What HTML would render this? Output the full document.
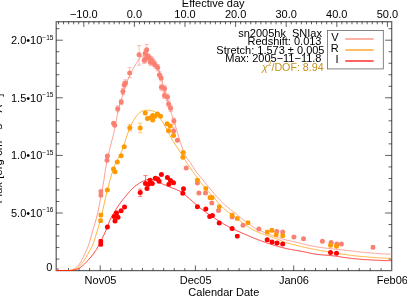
<!DOCTYPE html>
<html><head><meta charset="utf-8"><title>sn2005hk light curve</title>
<style>html,body{margin:0;padding:0;background:#fff;overflow:hidden}body{width:407px;height:297px;font-family:"Liberation Sans",sans-serif}</style></head>
<body>
<svg width="407" height="297" viewBox="0 0 407 297" style="display:block;will-change:transform">
<rect width="407" height="297" fill="#fff"/>
<g font-family="'Liberation Sans', sans-serif" font-size="11" fill="#000">
<rect x="56.20" y="21.70" width="335.50" height="248.90" stroke="#000" stroke-opacity="0.62" stroke-width="1.25" fill="none"/>
<path d="M58.50,21.70 v2.60 M63.56,21.70 v2.60 M68.62,21.70 v2.60 M73.68,21.70 v2.60 M78.74,21.70 v2.60 M83.80,21.70 v5.20 M88.86,21.70 v2.60 M93.92,21.70 v2.60 M98.98,21.70 v2.60 M104.04,21.70 v2.60 M109.10,21.70 v2.60 M114.16,21.70 v2.60 M119.22,21.70 v2.60 M124.28,21.70 v2.60 M129.34,21.70 v2.60 M134.40,21.70 v5.20 M139.46,21.70 v2.60 M144.52,21.70 v2.60 M149.58,21.70 v2.60 M154.64,21.70 v2.60 M159.70,21.70 v2.60 M164.76,21.70 v2.60 M169.82,21.70 v2.60 M174.88,21.70 v2.60 M179.94,21.70 v2.60 M185.00,21.70 v5.20 M190.06,21.70 v2.60 M195.12,21.70 v2.60 M200.18,21.70 v2.60 M205.24,21.70 v2.60 M210.30,21.70 v2.60 M215.36,21.70 v2.60 M220.42,21.70 v2.60 M225.48,21.70 v2.60 M230.54,21.70 v2.60 M235.60,21.70 v5.20 M240.66,21.70 v2.60 M245.72,21.70 v2.60 M250.78,21.70 v2.60 M255.84,21.70 v2.60 M260.90,21.70 v2.60 M265.96,21.70 v2.60 M271.02,21.70 v2.60 M276.08,21.70 v2.60 M281.14,21.70 v2.60 M286.20,21.70 v5.20 M291.26,21.70 v2.60 M296.32,21.70 v2.60 M301.38,21.70 v2.60 M306.44,21.70 v2.60 M311.50,21.70 v2.60 M316.56,21.70 v2.60 M321.62,21.70 v2.60 M326.68,21.70 v2.60 M331.74,21.70 v2.60 M336.80,21.70 v5.20 M341.86,21.70 v2.60 M346.92,21.70 v2.60 M351.98,21.70 v2.60 M357.04,21.70 v2.60 M362.10,21.70 v2.60 M367.16,21.70 v2.60 M372.22,21.70 v2.60 M377.28,21.70 v2.60 M382.34,21.70 v2.60 M387.40,21.70 v5.20 M89.62,270.60 v-2.60 M79.04,270.60 v-2.60 M68.47,270.60 v-2.60 M57.89,270.60 v-2.60 M100.20,270.60 v-5.20 M110.78,270.60 v-2.60 M121.36,270.60 v-2.60 M131.93,270.60 v-2.60 M142.51,270.60 v-2.60 M153.09,270.60 v-2.60 M163.67,270.60 v-2.60 M174.24,270.60 v-2.60 M184.82,270.60 v-2.60 M195.40,270.60 v-5.20 M206.32,270.60 v-2.60 M217.24,270.60 v-2.60 M228.17,270.60 v-2.60 M239.09,270.60 v-2.60 M250.01,270.60 v-2.60 M260.93,270.60 v-2.60 M271.86,270.60 v-2.60 M282.78,270.60 v-2.60 M293.70,270.60 v-5.20 M304.62,270.60 v-2.60 M315.54,270.60 v-2.60 M326.47,270.60 v-2.60 M337.39,270.60 v-2.60 M348.31,270.60 v-2.60 M359.23,270.60 v-2.60 M370.16,270.60 v-2.60 M381.08,270.60 v-2.60 M56.20,259.08 h3.20 M391.70,259.08 h-3.20 M56.20,247.56 h3.20 M391.70,247.56 h-3.20 M56.20,236.04 h3.20 M391.70,236.04 h-3.20 M56.20,224.52 h3.20 M391.70,224.52 h-3.20 M56.20,213.00 h6.60 M391.70,213.00 h-6.60 M56.20,201.48 h3.20 M391.70,201.48 h-3.20 M56.20,189.96 h3.20 M391.70,189.96 h-3.20 M56.20,178.44 h3.20 M391.70,178.44 h-3.20 M56.20,166.92 h3.20 M391.70,166.92 h-3.20 M56.20,155.40 h6.60 M391.70,155.40 h-6.60 M56.20,143.88 h3.20 M391.70,143.88 h-3.20 M56.20,132.36 h3.20 M391.70,132.36 h-3.20 M56.20,120.84 h3.20 M391.70,120.84 h-3.20 M56.20,109.32 h3.20 M391.70,109.32 h-3.20 M56.20,97.80 h6.60 M391.70,97.80 h-6.60 M56.20,86.28 h3.20 M391.70,86.28 h-3.20 M56.20,74.76 h3.20 M391.70,74.76 h-3.20 M56.20,63.24 h3.20 M391.70,63.24 h-3.20 M56.20,51.72 h3.20 M391.70,51.72 h-3.20 M56.20,40.20 h6.60 M391.70,40.20 h-6.60 M56.20,28.68 h3.20 M391.70,28.68 h-3.20" stroke="#000" stroke-opacity="0.62" stroke-width="1.0" fill="none"/>
<path d="M56.2,270.5 L68.9,270.5 L68.90,270.50 L69.71,270.43 L70.52,270.28 L71.33,270.09 L72.14,269.86 L72.95,269.55 L73.75,269.13 L74.56,268.63 L75.37,268.07 L76.18,267.46 L76.99,266.76 L77.80,265.95 L78.61,265.03 L79.42,264.01 L80.23,262.90 L81.04,261.64 L81.84,260.14 L82.65,258.49 L83.46,256.75 L84.27,254.99 L85.08,253.27 L85.89,251.54 L86.70,249.75 L87.51,247.84 L88.32,245.77 L89.13,243.45 L89.93,240.79 L90.74,237.90 L91.55,234.91 L92.36,231.92 L93.17,229.07 L93.98,226.36 L94.79,223.71 L95.60,220.99 L96.41,218.10 L97.22,214.93 L98.02,211.35 L98.83,207.37 L99.64,203.18 L100.45,198.90 L101.26,194.66 L102.07,190.37 L102.88,185.93 L103.69,181.27 L104.50,176.11 L105.31,170.60 L106.12,165.92 L106.92,161.75 L107.73,157.88 L108.54,154.21 L109.35,150.65 L110.16,147.21 L110.97,144.02 L111.78,140.95 L112.59,137.91 L113.40,134.76 L114.21,131.41 L115.01,127.69 L115.82,123.32 L116.63,118.63 L117.44,114.08 L118.25,110.13 L119.06,106.95 L119.87,104.14 L120.68,101.57 L121.49,99.11 L122.30,96.64 L123.10,94.07 L123.91,91.44 L124.72,88.83 L125.53,86.28 L126.34,83.86 L127.15,81.60 L127.96,79.57 L128.77,77.67 L129.58,75.85 L130.39,74.11 L131.19,72.44 L132.00,70.85 L132.81,69.32 L133.62,67.86 L134.43,66.45 L135.24,65.10 L136.05,63.76 L136.86,62.42 L137.67,61.11 L138.48,59.88 L139.28,58.77 L140.09,57.82 L140.90,57.07 L141.71,56.47 L142.52,55.89 L143.33,55.35 L144.14,54.87 L144.95,54.47 L145.76,54.18 L146.57,54.02 L147.38,54.02 L148.18,54.19 L148.99,54.50 L149.80,54.94 L150.61,55.46 L151.42,56.05 L152.23,56.70 L153.04,57.62 L153.85,58.86 L154.66,60.32 L155.47,61.91 L156.27,63.57 L157.08,65.43 L157.89,67.50 L158.70,69.77 L159.51,72.19 L160.32,74.76 L161.13,77.44 L161.94,80.54 L162.75,83.79 L163.56,86.86 L164.36,89.89 L165.17,92.90 L165.98,95.94 L166.79,98.92 L167.60,101.70 L168.41,104.35 L169.22,106.91 L170.03,109.42 L170.84,111.91 L171.65,114.35 L172.45,116.76 L173.26,119.25 L174.07,121.78 L174.88,124.31 L175.69,126.79 L176.50,129.30 L177.31,132.17 L178.12,135.06 L178.93,137.71 L179.74,140.27 L180.55,142.74 L181.35,145.12 L182.16,147.42 L182.97,149.71 L183.78,151.92 L184.59,153.91 L185.40,155.58 L186.21,157.02 L187.02,158.32 L187.83,159.51 L188.64,160.63 L189.44,161.71 L190.25,162.79 L191.06,163.91 L191.87,165.11 L192.68,166.39 L193.49,167.69 L194.30,168.96 L195.11,170.15 L195.92,171.27 L196.73,172.36 L197.53,173.41 L198.34,174.44 L199.15,175.45 L199.96,176.44 L200.77,177.42 L201.58,178.39 L202.39,179.35 L203.20,180.31 L204.01,181.28 L204.82,182.25 L205.62,183.24 L206.43,184.23 L207.24,185.22 L208.05,186.21 L208.86,187.20 L209.67,188.19 L210.48,189.18 L211.29,190.16 L212.10,191.14 L212.91,192.11 L213.72,193.08 L214.52,194.03 L215.33,194.97 L216.14,195.91 L216.95,196.83 L217.76,197.73 L218.57,198.62 L219.38,199.49 L220.19,200.35 L221.00,201.20 L221.81,202.03 L222.61,202.84 L223.42,203.63 L224.23,204.40 L225.04,205.14 L225.85,205.85 L226.66,206.53 L227.47,207.20 L228.28,207.84 L229.09,208.48 L229.90,209.10 L230.70,209.72 L231.51,210.34 L232.32,210.95 L233.13,211.57 L233.94,212.19 L234.75,212.82 L235.56,213.47 L236.37,214.12 L237.18,214.78 L237.99,215.44 L238.79,216.10 L239.60,216.76 L240.41,217.42 L241.22,218.08 L242.03,218.73 L242.84,219.38 L243.65,220.01 L244.46,220.64 L245.27,221.25 L246.08,221.86 L246.88,222.48 L247.69,223.10 L248.50,223.71 L249.31,224.33 L250.12,224.93 L250.93,225.52 L251.74,226.09 L252.55,226.64 L253.36,227.16 L254.17,227.66 L254.98,228.12 L255.78,228.56 L256.59,228.97 L257.40,229.38 L258.21,229.77 L259.02,230.16 L259.83,230.53 L260.64,230.89 L261.45,231.25 L262.26,231.60 L263.07,231.93 L263.87,232.26 L264.68,232.59 L265.49,232.91 L266.30,233.22 L267.11,233.53 L267.92,233.83 L268.73,234.13 L269.54,234.43 L270.35,234.72 L271.16,235.02 L271.96,235.31 L272.77,235.60 L273.58,235.89 L274.39,236.18 L275.20,236.47 L276.01,236.77 L276.82,237.06 L277.63,237.35 L278.44,237.64 L279.25,237.92 L280.05,238.20 L280.86,238.47 L281.67,238.73 L282.48,238.99 L283.29,239.24 L284.10,239.47 L284.91,239.70 L285.72,239.91 L286.53,240.10 L287.34,240.29 L288.15,240.47 L288.95,240.64 L289.76,240.80 L290.57,240.96 L291.38,241.13 L292.19,241.29 L293.00,241.46 L293.81,241.63 L294.62,241.81 L295.43,242.00 L296.24,242.20 L297.04,242.41 L297.85,242.62 L298.66,242.84 L299.47,243.06 L300.28,243.28 L301.09,243.50 L301.90,243.72 L302.71,243.93 L303.52,244.14 L304.33,244.34 L305.13,244.53 L305.94,244.72 L306.75,244.91 L307.56,245.09 L308.37,245.28 L309.18,245.46 L309.99,245.63 L310.80,245.81 L311.61,245.97 L312.42,246.13 L313.22,246.29 L314.03,246.44 L314.84,246.57 L315.65,246.71 L316.46,246.83 L317.27,246.96 L318.08,247.08 L318.89,247.20 L319.70,247.31 L320.51,247.43 L321.32,247.54 L322.12,247.64 L322.93,247.75 L323.74,247.85 L324.55,247.95 L325.36,248.05 L326.17,248.15 L326.98,248.25 L327.79,248.35 L328.60,248.44 L329.41,248.53 L330.21,248.63 L331.02,248.72 L331.83,248.81 L332.64,248.90 L333.45,248.99 L334.26,249.08 L335.07,249.17 L335.88,249.26 L336.69,249.35 L337.50,249.44 L338.30,249.52 L339.11,249.60 L339.92,249.68 L340.73,249.76 L341.54,249.84 L342.35,249.92 L343.16,250.01 L343.97,250.09 L344.78,250.18 L345.59,250.26 L346.39,250.35 L347.20,250.45 L348.01,250.54 L348.82,250.64 L349.63,250.74 L350.44,250.84 L351.25,250.94 L352.06,251.04 L352.87,251.14 L353.68,251.24 L354.48,251.34 L355.29,251.44 L356.10,251.54 L356.91,251.64 L357.72,251.74 L358.53,251.83 L359.34,251.93 L360.15,252.02 L360.96,252.10 L361.77,252.19 L362.58,252.27 L363.38,252.35 L364.19,252.43 L365.00,252.50 L365.81,252.57 L366.62,252.64 L367.43,252.71 L368.24,252.77 L369.05,252.84 L369.86,252.91 L370.67,252.97 L371.47,253.04 L372.28,253.10 L373.09,253.17 L373.90,253.23 L374.71,253.29 L375.52,253.35 L376.33,253.41 L377.14,253.47 L377.95,253.52 L378.76,253.58 L379.56,253.64 L380.37,253.69 L381.18,253.74 L381.99,253.79 L382.80,253.84 L383.61,253.89 L384.42,253.94 L385.23,253.99 L386.04,254.03 L386.85,254.07 L387.65,254.12 L388.46,254.16 L389.27,254.19 L390.08,254.23 L390.89,254.27 L391.70,254.30" fill="none" stroke="#FA8072" stroke-width="0.75" stroke-linejoin="round"/>
<path d="M56.2,270.5 L68.9,270.5 L68.90,270.50 L69.71,270.44 L70.52,270.34 L71.33,270.22 L72.14,270.07 L72.95,269.90 L73.75,269.67 L74.56,269.40 L75.37,269.08 L76.18,268.71 L76.99,268.24 L77.80,267.66 L78.61,266.97 L79.42,266.19 L80.23,265.34 L81.04,264.44 L81.84,263.50 L82.65,262.54 L83.46,261.48 L84.27,260.29 L85.08,258.99 L85.89,257.60 L86.70,256.17 L87.51,254.70 L88.32,253.23 L89.13,251.78 L89.93,250.37 L90.74,248.96 L91.55,247.45 L92.36,245.77 L93.17,243.80 L93.98,241.41 L94.79,238.80 L95.60,236.19 L96.41,233.63 L97.22,231.05 L98.02,228.41 L98.83,225.67 L99.64,222.81 L100.45,219.74 L101.26,216.48 L102.07,213.12 L102.88,209.61 L103.69,205.99 L104.50,202.35 L105.31,198.73 L106.12,195.22 L106.92,191.87 L107.73,188.72 L108.54,185.63 L109.35,182.58 L110.16,179.59 L110.97,176.70 L111.78,173.94 L112.59,171.33 L113.40,168.90 L114.21,166.69 L115.01,164.70 L115.82,162.91 L116.63,161.27 L117.44,159.74 L118.25,158.25 L119.06,156.77 L119.87,155.26 L120.68,153.66 L121.49,151.92 L122.30,150.01 L123.10,147.82 L123.91,145.35 L124.72,142.73 L125.53,140.06 L126.34,137.45 L127.15,135.03 L127.96,132.87 L128.77,130.79 L129.58,128.78 L130.39,126.86 L131.19,125.05 L132.00,123.37 L132.81,121.85 L133.62,120.46 L134.43,119.11 L135.24,117.82 L136.05,116.62 L136.86,115.52 L137.67,114.54 L138.48,113.69 L139.28,112.97 L140.09,112.33 L140.90,111.78 L141.71,111.35 L142.52,111.06 L143.33,110.80 L144.14,110.57 L144.95,110.39 L145.76,110.26 L146.57,110.20 L147.38,110.21 L148.18,110.24 L148.99,110.30 L149.80,110.37 L150.61,110.46 L151.42,110.56 L152.23,110.73 L153.04,110.97 L153.85,111.27 L154.66,111.63 L155.47,112.08 L156.27,112.77 L157.08,113.69 L157.89,114.77 L158.70,115.96 L159.51,117.21 L160.32,118.47 L161.13,119.69 L161.94,120.93 L162.75,122.22 L163.56,123.57 L164.36,124.97 L165.17,126.41 L165.98,127.88 L166.79,129.38 L167.60,130.90 L168.41,132.43 L169.22,133.97 L170.03,135.55 L170.84,137.22 L171.65,138.80 L172.45,140.22 L173.26,141.56 L174.07,142.84 L174.88,144.09 L175.69,145.29 L176.50,146.48 L177.31,147.66 L178.12,148.85 L178.93,150.05 L179.74,151.28 L180.55,152.55 L181.35,153.84 L182.16,155.15 L182.97,156.47 L183.78,157.80 L184.59,159.12 L185.40,160.44 L186.21,161.74 L187.02,163.02 L187.83,164.28 L188.64,165.50 L189.44,166.71 L190.25,167.89 L191.06,169.05 L191.87,170.21 L192.68,171.35 L193.49,172.48 L194.30,173.61 L195.11,174.73 L195.92,175.86 L196.73,176.99 L197.53,178.12 L198.34,179.25 L199.15,180.37 L199.96,181.49 L200.77,182.59 L201.58,183.67 L202.39,184.73 L203.20,185.76 L204.01,186.76 L204.82,187.74 L205.62,188.67 L206.43,189.59 L207.24,190.47 L208.05,191.35 L208.86,192.20 L209.67,193.05 L210.48,193.90 L211.29,194.75 L212.10,195.61 L212.91,196.47 L213.72,197.35 L214.52,198.26 L215.33,199.19 L216.14,200.17 L216.95,201.18 L217.76,202.21 L218.57,203.22 L219.38,204.21 L220.19,205.14 L221.00,206.00 L221.81,206.79 L222.61,207.54 L223.42,208.25 L224.23,208.94 L225.04,209.62 L225.85,210.29 L226.66,210.95 L227.47,211.60 L228.28,212.23 L229.09,212.86 L229.90,213.49 L230.70,214.10 L231.51,214.71 L232.32,215.31 L233.13,215.90 L233.94,216.49 L234.75,217.08 L235.56,217.66 L236.37,218.25 L237.18,218.83 L237.99,219.40 L238.79,219.99 L239.60,220.58 L240.41,221.18 L241.22,221.78 L242.03,222.39 L242.84,222.99 L243.65,223.59 L244.46,224.19 L245.27,224.78 L246.08,225.37 L246.88,225.95 L247.69,226.51 L248.50,227.07 L249.31,227.61 L250.12,228.14 L250.93,228.65 L251.74,229.14 L252.55,229.61 L253.36,230.06 L254.17,230.49 L254.98,230.89 L255.78,231.27 L256.59,231.63 L257.40,231.98 L258.21,232.32 L259.02,232.64 L259.83,232.96 L260.64,233.27 L261.45,233.56 L262.26,233.85 L263.07,234.13 L263.87,234.41 L264.68,234.68 L265.49,234.95 L266.30,235.22 L267.11,235.48 L267.92,235.75 L268.73,236.01 L269.54,236.28 L270.35,236.55 L271.16,236.82 L271.96,237.10 L272.77,237.38 L273.58,237.67 L274.39,237.97 L275.20,238.28 L276.01,238.60 L276.82,238.93 L277.63,239.26 L278.44,239.60 L279.25,239.95 L280.05,240.29 L280.86,240.63 L281.67,240.96 L282.48,241.28 L283.29,241.60 L284.10,241.89 L284.91,242.17 L285.72,242.43 L286.53,242.69 L287.34,242.93 L288.15,243.18 L288.95,243.41 L289.76,243.64 L290.57,243.87 L291.38,244.09 L292.19,244.31 L293.00,244.52 L293.81,244.73 L294.62,244.94 L295.43,245.14 L296.24,245.34 L297.04,245.54 L297.85,245.74 L298.66,245.93 L299.47,246.12 L300.28,246.31 L301.09,246.50 L301.90,246.69 L302.71,246.87 L303.52,247.06 L304.33,247.25 L305.13,247.43 L305.94,247.61 L306.75,247.80 L307.56,247.97 L308.37,248.15 L309.18,248.32 L309.99,248.49 L310.80,248.66 L311.61,248.83 L312.42,248.99 L313.22,249.15 L314.03,249.31 L314.84,249.47 L315.65,249.62 L316.46,249.78 L317.27,249.93 L318.08,250.08 L318.89,250.23 L319.70,250.37 L320.51,250.52 L321.32,250.66 L322.12,250.80 L322.93,250.94 L323.74,251.08 L324.55,251.22 L325.36,251.36 L326.17,251.50 L326.98,251.63 L327.79,251.77 L328.60,251.90 L329.41,252.04 L330.21,252.17 L331.02,252.30 L331.83,252.44 L332.64,252.57 L333.45,252.70 L334.26,252.83 L335.07,252.96 L335.88,253.09 L336.69,253.23 L337.50,253.36 L338.30,253.49 L339.11,253.62 L339.92,253.75 L340.73,253.88 L341.54,254.00 L342.35,254.12 L343.16,254.24 L343.97,254.36 L344.78,254.47 L345.59,254.58 L346.39,254.69 L347.20,254.79 L348.01,254.90 L348.82,255.01 L349.63,255.11 L350.44,255.22 L351.25,255.32 L352.06,255.42 L352.87,255.53 L353.68,255.63 L354.48,255.72 L355.29,255.82 L356.10,255.91 L356.91,256.01 L357.72,256.10 L358.53,256.19 L359.34,256.27 L360.15,256.36 L360.96,256.44 L361.77,256.52 L362.58,256.59 L363.38,256.66 L364.19,256.73 L365.00,256.80 L365.81,256.86 L366.62,256.93 L367.43,256.99 L368.24,257.06 L369.05,257.12 L369.86,257.18 L370.67,257.24 L371.47,257.30 L372.28,257.36 L373.09,257.42 L373.90,257.48 L374.71,257.53 L375.52,257.59 L376.33,257.64 L377.14,257.69 L377.95,257.75 L378.76,257.80 L379.56,257.85 L380.37,257.90 L381.18,257.94 L381.99,257.99 L382.80,258.03 L383.61,258.07 L384.42,258.11 L385.23,258.15 L386.04,258.19 L386.85,258.23 L387.65,258.26 L388.46,258.29 L389.27,258.32 L390.08,258.35 L390.89,258.38 L391.70,258.40" fill="none" stroke="#FF9900" stroke-width="0.75" stroke-linejoin="round"/>
<path d="M56.2,270.5 L68.9,270.5 L68.90,270.50 L69.71,270.47 L70.52,270.42 L71.33,270.36 L72.14,270.29 L72.95,270.19 L73.75,270.07 L74.56,269.93 L75.37,269.75 L76.18,269.55 L76.99,269.28 L77.80,268.92 L78.61,268.50 L79.42,268.04 L80.23,267.55 L81.04,267.01 L81.84,266.40 L82.65,265.73 L83.46,265.00 L84.27,264.23 L85.08,263.41 L85.89,262.57 L86.70,261.70 L87.51,260.81 L88.32,259.91 L89.13,259.01 L89.93,258.09 L90.74,257.14 L91.55,256.16 L92.36,255.15 L93.17,254.10 L93.98,253.00 L94.79,251.87 L95.60,250.69 L96.41,249.46 L97.22,248.17 L98.02,246.77 L98.83,245.22 L99.64,243.57 L100.45,241.88 L101.26,240.19 L102.07,238.57 L102.88,236.99 L103.69,235.38 L104.50,233.69 L105.31,231.88 L106.12,229.99 L106.92,228.03 L107.73,225.98 L108.54,223.76 L109.35,221.62 L110.16,219.80 L110.97,218.17 L111.78,216.65 L112.59,215.20 L113.40,213.78 L114.21,212.38 L115.01,211.01 L115.82,209.67 L116.63,208.36 L117.44,207.09 L118.25,205.86 L119.06,204.66 L119.87,203.50 L120.68,202.39 L121.49,201.34 L122.30,200.34 L123.10,199.37 L123.91,198.41 L124.72,197.44 L125.53,196.44 L126.34,195.42 L127.15,194.40 L127.96,193.39 L128.77,192.41 L129.58,191.47 L130.39,190.61 L131.19,189.78 L132.00,188.98 L132.81,188.21 L133.62,187.47 L134.43,186.77 L135.24,186.10 L136.05,185.46 L136.86,184.86 L137.67,184.29 L138.48,183.75 L139.28,183.24 L140.09,182.76 L140.90,182.31 L141.71,181.86 L142.52,181.45 L143.33,181.06 L144.14,180.71 L144.95,180.41 L145.76,180.10 L146.57,179.81 L147.38,179.55 L148.18,179.37 L148.99,179.30 L149.80,179.32 L150.61,179.38 L151.42,179.47 L152.23,179.58 L153.04,179.71 L153.85,179.88 L154.66,180.13 L155.47,180.46 L156.27,180.83 L157.08,181.24 L157.89,181.68 L158.70,182.12 L159.51,182.57 L160.32,182.99 L161.13,183.38 L161.94,183.73 L162.75,184.08 L163.56,184.42 L164.36,184.76 L165.17,185.09 L165.98,185.43 L166.79,185.76 L167.60,186.09 L168.41,186.43 L169.22,186.76 L170.03,187.10 L170.84,187.44 L171.65,187.77 L172.45,188.09 L173.26,188.40 L174.07,188.70 L174.88,189.01 L175.69,189.32 L176.50,189.64 L177.31,189.98 L178.12,190.33 L178.93,190.71 L179.74,191.11 L180.55,191.54 L181.35,192.02 L182.16,192.59 L182.97,193.23 L183.78,193.91 L184.59,194.57 L185.40,195.23 L186.21,195.90 L187.02,196.58 L187.83,197.27 L188.64,197.96 L189.44,198.67 L190.25,199.38 L191.06,200.09 L191.87,200.81 L192.68,201.53 L193.49,202.25 L194.30,202.97 L195.11,203.68 L195.92,204.39 L196.73,205.10 L197.53,205.80 L198.34,206.49 L199.15,207.17 L199.96,207.84 L200.77,208.49 L201.58,209.14 L202.39,209.76 L203.20,210.38 L204.01,210.98 L204.82,211.57 L205.62,212.16 L206.43,212.74 L207.24,213.31 L208.05,213.88 L208.86,214.43 L209.67,214.99 L210.48,215.53 L211.29,216.07 L212.10,216.61 L212.91,217.14 L213.72,217.67 L214.52,218.19 L215.33,218.71 L216.14,219.23 L216.95,219.75 L217.76,220.27 L218.57,220.78 L219.38,221.30 L220.19,221.80 L221.00,222.31 L221.81,222.81 L222.61,223.30 L223.42,223.79 L224.23,224.28 L225.04,224.75 L225.85,225.22 L226.66,225.68 L227.47,226.14 L228.28,226.58 L229.09,227.02 L229.90,227.44 L230.70,227.86 L231.51,228.26 L232.32,228.66 L233.13,229.05 L233.94,229.43 L234.75,229.80 L235.56,230.17 L236.37,230.54 L237.18,230.90 L237.99,231.25 L238.79,231.60 L239.60,231.95 L240.41,232.30 L241.22,232.65 L242.03,232.99 L242.84,233.34 L243.65,233.69 L244.46,234.04 L245.27,234.39 L246.08,234.74 L246.88,235.09 L247.69,235.45 L248.50,235.81 L249.31,236.16 L250.12,236.52 L250.93,236.87 L251.74,237.22 L252.55,237.56 L253.36,237.90 L254.17,238.24 L254.98,238.57 L255.78,238.89 L256.59,239.20 L257.40,239.50 L258.21,239.80 L259.02,240.09 L259.83,240.39 L260.64,240.68 L261.45,240.97 L262.26,241.26 L263.07,241.55 L263.87,241.84 L264.68,242.12 L265.49,242.40 L266.30,242.69 L267.11,242.96 L267.92,243.24 L268.73,243.51 L269.54,243.78 L270.35,244.05 L271.16,244.31 L271.96,244.57 L272.77,244.83 L273.58,245.08 L274.39,245.33 L275.20,245.58 L276.01,245.82 L276.82,246.06 L277.63,246.30 L278.44,246.53 L279.25,246.75 L280.05,246.98 L280.86,247.19 L281.67,247.41 L282.48,247.61 L283.29,247.82 L284.10,248.02 L284.91,248.21 L285.72,248.40 L286.53,248.58 L287.34,248.75 L288.15,248.92 L288.95,249.09 L289.76,249.25 L290.57,249.40 L291.38,249.56 L292.19,249.70 L293.00,249.85 L293.81,250.00 L294.62,250.14 L295.43,250.28 L296.24,250.42 L297.04,250.56 L297.85,250.70 L298.66,250.84 L299.47,250.98 L300.28,251.12 L301.09,251.26 L301.90,251.41 L302.71,251.56 L303.52,251.71 L304.33,251.87 L305.13,252.03 L305.94,252.20 L306.75,252.37 L307.56,252.56 L308.37,252.75 L309.18,252.93 L309.99,253.12 L310.80,253.31 L311.61,253.48 L312.42,253.65 L313.22,253.81 L314.03,253.95 L314.84,254.08 L315.65,254.19 L316.46,254.29 L317.27,254.39 L318.08,254.48 L318.89,254.57 L319.70,254.66 L320.51,254.74 L321.32,254.81 L322.12,254.89 L322.93,254.96 L323.74,255.02 L324.55,255.09 L325.36,255.16 L326.17,255.22 L326.98,255.29 L327.79,255.36 L328.60,255.43 L329.41,255.50 L330.21,255.57 L331.02,255.64 L331.83,255.72 L332.64,255.80 L333.45,255.89 L334.26,255.98 L335.07,256.07 L335.88,256.17 L336.69,256.29 L337.50,256.41 L338.30,256.54 L339.11,256.67 L339.92,256.81 L340.73,256.95 L341.54,257.08 L342.35,257.22 L343.16,257.34 L343.97,257.46 L344.78,257.57 L345.59,257.67 L346.39,257.77 L347.20,257.87 L348.01,257.97 L348.82,258.07 L349.63,258.16 L350.44,258.26 L351.25,258.35 L352.06,258.44 L352.87,258.53 L353.68,258.62 L354.48,258.71 L355.29,258.79 L356.10,258.88 L356.91,258.96 L357.72,259.03 L358.53,259.11 L359.34,259.18 L360.15,259.25 L360.96,259.32 L361.77,259.38 L362.58,259.44 L363.38,259.50 L364.19,259.55 L365.00,259.60 L365.81,259.65 L366.62,259.70 L367.43,259.74 L368.24,259.79 L369.05,259.84 L369.86,259.88 L370.67,259.93 L371.47,259.97 L372.28,260.02 L373.09,260.06 L373.90,260.11 L374.71,260.15 L375.52,260.19 L376.33,260.23 L377.14,260.27 L377.95,260.31 L378.76,260.34 L379.56,260.38 L380.37,260.41 L381.18,260.44 L381.99,260.47 L382.80,260.50 L383.61,260.53 L384.42,260.56 L385.23,260.58 L386.04,260.60 L386.85,260.62 L387.65,260.64 L388.46,260.66 L389.27,260.67 L390.08,260.68 L390.89,260.69 L391.70,260.70" fill="none" stroke="#FF0000" stroke-width="0.75" stroke-linejoin="round"/>
<circle cx="107.4" cy="156.1" r="2.5" fill="#FA8072"/>
<circle cx="107.0" cy="160.3" r="2.5" fill="#FA8072"/>
<circle cx="113.6" cy="123.2" r="2.5" fill="#FA8072"/>
<circle cx="114.7" cy="125.2" r="2.5" fill="#FA8072"/>
<path d="M117.7,105.8 V111.8 M115.6,105.8 H119.8 M115.6,111.8 H119.8" stroke="#FA8072" stroke-width="0.6" stroke-opacity="0.85" fill="none"/>
<circle cx="117.7" cy="108.8" r="2.5" fill="#FA8072"/>
<path d="M121.2,99.6 V104.6 M119.1,99.6 H123.3 M119.1,104.6 H123.3" stroke="#FA8072" stroke-width="0.6" stroke-opacity="0.85" fill="none"/>
<circle cx="121.2" cy="102.1" r="2.5" fill="#FA8072"/>
<path d="M122.9,88.5 V94.5 M120.8,88.5 H125.0 M120.8,94.5 H125.0" stroke="#FA8072" stroke-width="0.6" stroke-opacity="0.85" fill="none"/>
<circle cx="122.9" cy="91.5" r="2.5" fill="#FA8072"/>
<path d="M124.2,81.6 V87.8 M122.1,81.6 H126.3 M122.1,87.8 H126.3" stroke="#FA8072" stroke-width="0.6" stroke-opacity="0.85" fill="none"/>
<circle cx="124.2" cy="84.7" r="2.5" fill="#FA8072"/>
<path d="M125.5,79.8 V86.0 M123.4,79.8 H127.6 M123.4,86.0 H127.6" stroke="#FA8072" stroke-width="0.6" stroke-opacity="0.85" fill="none"/>
<circle cx="125.5" cy="82.9" r="2.5" fill="#FA8072"/>
<path d="M129.7,67.7 V77.5 M127.6,67.7 H131.8 M127.6,77.5 H131.8" stroke="#FA8072" stroke-width="0.6" stroke-opacity="0.85" fill="none"/>
<circle cx="129.7" cy="72.9" r="2.5" fill="#FA8072"/>
<path d="M139.1,45.5 V65.2 M137.0,45.5 H141.2 M137.0,65.2 H141.2" stroke="#FA8072" stroke-width="0.6" stroke-opacity="0.85" fill="none"/>
<circle cx="139.1" cy="54.7" r="2.5" fill="#FA8072"/>
<path d="M146.7,44.4 V55.0 M144.6,44.4 H148.8 M144.6,55.0 H148.8" stroke="#FA8072" stroke-width="0.6" stroke-opacity="0.85" fill="none"/>
<circle cx="146.7" cy="49.7" r="2.5" fill="#FA8072"/>
<path d="M145.2,50.1 V56.3 M143.1,50.1 H147.3 M143.1,56.3 H147.3" stroke="#FA8072" stroke-width="0.6" stroke-opacity="0.85" fill="none"/>
<circle cx="145.2" cy="53.2" r="2.5" fill="#FA8072"/>
<path d="M145.2,56.1 V62.3 M143.1,56.1 H147.3 M143.1,62.3 H147.3" stroke="#FA8072" stroke-width="0.6" stroke-opacity="0.85" fill="none"/>
<circle cx="145.2" cy="59.2" r="2.5" fill="#FA8072"/>
<path d="M147.3,53.2 V59.4 M145.2,53.2 H149.4 M145.2,59.4 H149.4" stroke="#FA8072" stroke-width="0.6" stroke-opacity="0.85" fill="none"/>
<circle cx="147.3" cy="56.3" r="2.5" fill="#FA8072"/>
<path d="M150.3,59.2 V65.4 M148.2,59.2 H152.4 M148.2,65.4 H152.4" stroke="#FA8072" stroke-width="0.6" stroke-opacity="0.85" fill="none"/>
<circle cx="150.3" cy="62.3" r="2.5" fill="#FA8072"/>
<path d="M144.2,57.2 V63.4 M142.1,57.2 H146.3 M142.1,63.4 H146.3" stroke="#FA8072" stroke-width="0.6" stroke-opacity="0.85" fill="none"/>
<circle cx="144.2" cy="60.3" r="2.5" fill="#FA8072"/>
<path d="M148.9,54.6 V60.8 M146.8,54.6 H151.0 M146.8,60.8 H151.0" stroke="#FA8072" stroke-width="0.6" stroke-opacity="0.85" fill="none"/>
<circle cx="148.9" cy="57.7" r="2.5" fill="#FA8072"/>
<path d="M151.2,56.9 V63.1 M149.1,56.9 H153.3 M149.1,63.1 H153.3" stroke="#FA8072" stroke-width="0.6" stroke-opacity="0.85" fill="none"/>
<circle cx="151.2" cy="60.0" r="2.5" fill="#FA8072"/>
<path d="M153.5,59.9 V66.1 M151.4,59.9 H155.6 M151.4,66.1 H155.6" stroke="#FA8072" stroke-width="0.6" stroke-opacity="0.85" fill="none"/>
<circle cx="153.5" cy="63.0" r="2.5" fill="#FA8072"/>
<path d="M155.2,61.9 V68.1 M153.1,61.9 H157.3 M153.1,68.1 H157.3" stroke="#FA8072" stroke-width="0.6" stroke-opacity="0.85" fill="none"/>
<circle cx="155.2" cy="65.0" r="2.5" fill="#FA8072"/>
<path d="M157.7,64.5 V70.7 M155.6,64.5 H159.8 M155.6,70.7 H159.8" stroke="#FA8072" stroke-width="0.6" stroke-opacity="0.85" fill="none"/>
<circle cx="157.7" cy="67.6" r="2.5" fill="#FA8072"/>
<path d="M159.4,71.6 V77.8 M157.3,71.6 H161.5 M157.3,77.8 H161.5" stroke="#FA8072" stroke-width="0.6" stroke-opacity="0.85" fill="none"/>
<circle cx="159.4" cy="74.7" r="2.5" fill="#FA8072"/>
<path d="M161.1,74.8 V81.0 M159.0,74.8 H163.2 M159.0,81.0 H163.2" stroke="#FA8072" stroke-width="0.6" stroke-opacity="0.85" fill="none"/>
<circle cx="161.1" cy="77.9" r="2.5" fill="#FA8072"/>
<path d="M161.4,84.2 V90.4 M159.3,84.2 H163.5 M159.3,90.4 H163.5" stroke="#FA8072" stroke-width="0.6" stroke-opacity="0.85" fill="none"/>
<circle cx="161.4" cy="87.3" r="2.5" fill="#FA8072"/>
<path d="M164.6,85.3 V91.5 M162.5,85.3 H166.7 M162.5,91.5 H166.7" stroke="#FA8072" stroke-width="0.6" stroke-opacity="0.85" fill="none"/>
<circle cx="164.6" cy="88.4" r="2.5" fill="#FA8072"/>
<path d="M164.4,92.4 V98.6 M162.3,92.4 H166.5 M162.3,98.6 H166.5" stroke="#FA8072" stroke-width="0.6" stroke-opacity="0.85" fill="none"/>
<circle cx="164.4" cy="95.5" r="2.5" fill="#FA8072"/>
<path d="M167.5,93.9 V100.1 M165.4,93.9 H169.6 M165.4,100.1 H169.6" stroke="#FA8072" stroke-width="0.6" stroke-opacity="0.85" fill="none"/>
<circle cx="167.5" cy="97.0" r="2.5" fill="#FA8072"/>
<path d="M168.6,100.9 V107.1 M166.5,100.9 H170.7 M166.5,107.1 H170.7" stroke="#FA8072" stroke-width="0.6" stroke-opacity="0.85" fill="none"/>
<circle cx="168.6" cy="104.0" r="2.5" fill="#FA8072"/>
<path d="M170.6,105.2 V111.4 M168.5,105.2 H172.7 M168.5,111.4 H172.7" stroke="#FA8072" stroke-width="0.6" stroke-opacity="0.85" fill="none"/>
<circle cx="170.6" cy="108.3" r="2.5" fill="#FA8072"/>
<path d="M173.9,118.0 V124.2 M171.8,118.0 H176.0 M171.8,124.2 H176.0" stroke="#FA8072" stroke-width="0.6" stroke-opacity="0.85" fill="none"/>
<circle cx="173.9" cy="121.1" r="2.5" fill="#FA8072"/>
<path d="M173.6,127.8 V134.0 M171.5,127.8 H175.7 M171.5,134.0 H175.7" stroke="#FA8072" stroke-width="0.6" stroke-opacity="0.85" fill="none"/>
<circle cx="173.6" cy="130.9" r="2.5" fill="#FA8072"/>
<circle cx="177.4" cy="140.3" r="2.5" fill="#FA8072"/>
<circle cx="186.2" cy="168.1" r="2.5" fill="#FA8072"/>
<circle cx="197.4" cy="182.9" r="2.5" fill="#FA8072"/>
<circle cx="198.9" cy="193.0" r="2.5" fill="#FA8072"/>
<circle cx="205.5" cy="193.0" r="2.5" fill="#FA8072"/>
<circle cx="211.8" cy="202.9" r="2.5" fill="#FA8072"/>
<circle cx="218.5" cy="210.5" r="2.5" fill="#FA8072"/>
<circle cx="232.1" cy="217.0" r="2.5" fill="#FA8072"/>
<circle cx="243.0" cy="225.3" r="2.5" fill="#FA8072"/>
<circle cx="258.9" cy="229.1" r="2.5" fill="#FA8072"/>
<circle cx="276.7" cy="231.4" r="2.5" fill="#FA8072"/>
<circle cx="282.7" cy="232.1" r="2.5" fill="#FA8072"/>
<circle cx="293.9" cy="237.0" r="2.5" fill="#FA8072"/>
<circle cx="303.5" cy="238.8" r="2.5" fill="#FA8072"/>
<circle cx="322.4" cy="241.2" r="2.5" fill="#FA8072"/>
<circle cx="331.1" cy="242.4" r="2.5" fill="#FA8072"/>
<circle cx="336.8" cy="243.9" r="2.5" fill="#FA8072"/>
<circle cx="341.4" cy="243.9" r="2.5" fill="#FA8072"/>
<rect x="98.6" y="189.2" width="4.6" height="4.6" rx="1.4" fill="#FA8072"/>
<rect x="98.6" y="193.0" width="4.6" height="4.6" rx="1.4" fill="#FA8072"/>
<rect x="370.7" y="245.1" width="4.6" height="4.6" rx="1.4" fill="#FA8072"/>
<circle cx="107.4" cy="190.0" r="2.5" fill="#FF9900"/>
<circle cx="113.5" cy="168.9" r="2.5" fill="#FF9900"/>
<circle cx="115.0" cy="171.7" r="2.5" fill="#FF9900"/>
<circle cx="117.3" cy="162.1" r="2.5" fill="#FF9900"/>
<circle cx="121.1" cy="155.8" r="2.5" fill="#FF9900"/>
<circle cx="124.2" cy="146.7" r="2.5" fill="#FF9900"/>
<path d="M129.8,124.4 V131.0 M127.7,124.4 H131.9 M127.7,131.0 H131.9" stroke="#FF9900" stroke-width="0.6" stroke-opacity="0.85" fill="none"/>
<circle cx="129.8" cy="127.7" r="2.5" fill="#FF9900"/>
<path d="M140.2,123.2 V132.7 M138.1,123.2 H142.3 M138.1,132.7 H142.3" stroke="#FF9900" stroke-width="0.6" stroke-opacity="0.85" fill="none"/>
<circle cx="140.2" cy="128.0" r="2.5" fill="#FF9900"/>
<circle cx="145.3" cy="113.0" r="2.5" fill="#FF9900"/>
<circle cx="147.4" cy="118.5" r="2.5" fill="#FF9900"/>
<circle cx="150.5" cy="117.7" r="2.5" fill="#FF9900"/>
<circle cx="152.7" cy="115.5" r="2.5" fill="#FF9900"/>
<circle cx="152.7" cy="120.0" r="2.5" fill="#FF9900"/>
<circle cx="155.0" cy="116.3" r="2.5" fill="#FF9900"/>
<circle cx="157.5" cy="114.1" r="2.5" fill="#FF9900"/>
<circle cx="160.5" cy="116.2" r="2.5" fill="#FF9900"/>
<circle cx="167.1" cy="123.8" r="2.5" fill="#FF9900"/>
<circle cx="170.2" cy="126.1" r="2.5" fill="#FF9900"/>
<circle cx="168.5" cy="130.7" r="2.5" fill="#FF9900"/>
<circle cx="173.5" cy="135.6" r="2.5" fill="#FF9900"/>
<circle cx="183.2" cy="152.4" r="2.5" fill="#FF9900"/>
<circle cx="182.9" cy="157.3" r="2.5" fill="#FF9900"/>
<circle cx="330.5" cy="245.2" r="2.5" fill="#FF9900"/>
<circle cx="336.5" cy="246.2" r="2.5" fill="#FF9900"/>
<rect x="98.6" y="212.7" width="4.6" height="4.6" rx="1.4" fill="#FF9900"/>
<rect x="98.3" y="218.5" width="4.6" height="4.6" rx="1.4" fill="#FF9900"/>
<rect x="195.1" y="177.9" width="4.6" height="4.6" rx="1.4" fill="#FF9900"/>
<rect x="203.5" y="186.2" width="4.6" height="4.6" rx="1.4" fill="#FF9900"/>
<rect x="207.7" y="195.3" width="4.6" height="4.6" rx="1.4" fill="#FF9900"/>
<rect x="209.8" y="195.3" width="4.6" height="4.6" rx="1.4" fill="#FF9900"/>
<rect x="217.0" y="204.4" width="4.6" height="4.6" rx="1.4" fill="#FF9900"/>
<rect x="229.8" y="212.7" width="4.6" height="4.6" rx="1.4" fill="#FF9900"/>
<rect x="235.0" y="216.2" width="4.6" height="4.6" rx="1.4" fill="#FF9900"/>
<rect x="245.7" y="220.4" width="4.6" height="4.6" rx="1.4" fill="#FF9900"/>
<rect x="265.0" y="229.8" width="4.6" height="4.6" rx="1.4" fill="#FF9900"/>
<rect x="269.6" y="228.1" width="4.6" height="4.6" rx="1.4" fill="#FF9900"/>
<rect x="273.9" y="232.4" width="4.6" height="4.6" rx="1.4" fill="#FF9900"/>
<rect x="280.4" y="233.5" width="4.6" height="4.6" rx="1.4" fill="#FF9900"/>
<circle cx="107.4" cy="227.1" r="2.5" fill="#FF0000"/>
<circle cx="115.0" cy="221.1" r="2.5" fill="#FF0000"/>
<circle cx="114.2" cy="216.5" r="2.5" fill="#FF0000"/>
<circle cx="118.0" cy="217.3" r="2.5" fill="#FF0000"/>
<circle cx="116.5" cy="213.0" r="2.5" fill="#FF0000"/>
<circle cx="121.1" cy="210.8" r="2.5" fill="#FF0000"/>
<circle cx="124.5" cy="207.1" r="2.5" fill="#FF0000"/>
<path d="M140.2,189.1 V196.4 M138.1,189.1 H142.3 M138.1,196.4 H142.3" stroke="#FF0000" stroke-width="0.6" stroke-opacity="0.85" fill="none"/>
<circle cx="140.2" cy="192.6" r="2.5" fill="#FF0000"/>
<circle cx="147.0" cy="188.5" r="2.5" fill="#FF0000"/>
<path d="M145.5,175.6 V183.5 M143.4,175.6 H147.6 M143.4,183.5 H147.6" stroke="#FF0000" stroke-width="0.6" stroke-opacity="0.85" fill="none"/>
<circle cx="145.5" cy="183.5" r="2.5" fill="#FF0000"/>
<circle cx="148.5" cy="184.2" r="2.5" fill="#FF0000"/>
<circle cx="150.0" cy="180.2" r="2.5" fill="#FF0000"/>
<circle cx="152.3" cy="183.5" r="2.5" fill="#FF0000"/>
<circle cx="155.3" cy="178.2" r="2.5" fill="#FF0000"/>
<circle cx="157.6" cy="178.9" r="2.5" fill="#FF0000"/>
<circle cx="159.1" cy="181.2" r="2.5" fill="#FF0000"/>
<circle cx="161.4" cy="174.4" r="2.5" fill="#FF0000"/>
<circle cx="167.4" cy="177.4" r="2.5" fill="#FF0000"/>
<circle cx="170.5" cy="180.5" r="2.5" fill="#FF0000"/>
<circle cx="173.5" cy="182.7" r="2.5" fill="#FF0000"/>
<circle cx="168.9" cy="184.2" r="2.5" fill="#FF0000"/>
<circle cx="183.5" cy="188.8" r="2.5" fill="#FF0000"/>
<circle cx="182.8" cy="193.2" r="2.5" fill="#FF0000"/>
<circle cx="197.4" cy="206.7" r="2.5" fill="#FF0000"/>
<circle cx="205.8" cy="208.9" r="2.5" fill="#FF0000"/>
<circle cx="209.7" cy="216.4" r="2.5" fill="#FF0000"/>
<circle cx="212.4" cy="215.4" r="2.5" fill="#FF0000"/>
<circle cx="219.2" cy="223.0" r="2.5" fill="#FF0000"/>
<circle cx="232.1" cy="228.6" r="2.5" fill="#FF0000"/>
<circle cx="267.2" cy="239.8" r="2.5" fill="#FF0000"/>
<circle cx="272.0" cy="242.0" r="2.5" fill="#FF0000"/>
<circle cx="277.0" cy="243.0" r="2.5" fill="#FF0000"/>
<circle cx="282.7" cy="244.1" r="2.5" fill="#FF0000"/>
<circle cx="330.5" cy="252.6" r="2.5" fill="#FF0000"/>
<circle cx="336.5" cy="253.3" r="2.5" fill="#FF0000"/>
<rect x="98.5" y="239.1" width="4.6" height="4.6" rx="1.4" fill="#FF0000"/>
<rect x="98.5" y="242.1" width="4.6" height="4.6" rx="1.4" fill="#FF0000"/>
<rect x="235.0" y="233.9" width="4.6" height="4.6" rx="1.4" fill="#FF0000"/>
<text x="83.8" y="17.7" text-anchor="middle">−10.0</text>
<text x="134.4" y="17.7" text-anchor="middle">0.0</text>
<text x="185.0" y="17.7" text-anchor="middle">10.0</text>
<text x="235.6" y="17.7" text-anchor="middle">20.0</text>
<text x="286.2" y="17.7" text-anchor="middle">30.0</text>
<text x="336.8" y="17.7" text-anchor="middle">40.0</text>
<text x="387.4" y="17.7" text-anchor="middle">50.0</text>
<text x="213.2" y="7.4" text-anchor="middle">Effective day</text>
<text x="100.5" y="284.4" text-anchor="middle">Nov05</text>
<text x="195.7" y="284.4" text-anchor="middle">Dec05</text>
<text x="294.0" y="284.4" text-anchor="middle">Jan06</text>
<text x="392.3" y="284.4" text-anchor="middle">Feb06</text>
<text x="223.8" y="295.5" text-anchor="middle">Calendar Date</text>
<text x="53.4" y="44.1" text-anchor="end">2.0•10<tspan font-size="6.5" dy="-4.5">−15</tspan></text>
<text x="53.4" y="101.7" text-anchor="end">1.5•10<tspan font-size="6.5" dy="-4.5">−15</tspan></text>
<text x="53.4" y="159.3" text-anchor="end">1.0•10<tspan font-size="6.5" dy="-4.5">−15</tspan></text>
<text x="53.4" y="216.9" text-anchor="end">5.0•10<tspan font-size="6.5" dy="-4.5">−16</tspan></text>
<text x="52.4" y="270.9" text-anchor="end">0</text>
<text transform="translate(2.4,148.6) rotate(-90) scale(1.04,1)" text-anchor="middle">Flux [erg cm<tspan font-size="6.8" dy="-5">−2</tspan><tspan dy="5"> s</tspan><tspan font-size="6.8" dy="-5">−1</tspan><tspan dy="5"> Å</tspan><tspan font-size="6.8" dy="-5">−1</tspan><tspan dy="5">]</tspan></text>
<text x="322" y="36.5" text-anchor="end" xml:space="preserve">sn2005hk  SNIax</text>
<text x="321.5" y="45.1" text-anchor="end">Redshift: 0.013</text>
<text x="324.5" y="54" text-anchor="end">Stretch: 1.573 ± 0.005</text>
<text x="321.5" y="62.3" text-anchor="end">Max: 2005−11−11.8</text>
<text x="323.7" y="70.8" text-anchor="end" font-size="10.7" fill="#C4921F"><tspan font-style="italic">χ</tspan><tspan font-size="6.3" dy="-5">2</tspan><tspan dy="5">/DOF: 8.94</tspan></text>
<rect x="327.4" y="30.5" width="55.9" height="38.4" fill="#fff" stroke="#000" stroke-opacity="0.6" stroke-width="0.8"/>
<text x="338.6" y="40.6" text-anchor="end">V</text>
<path d="M345.3,39.0 H373.6" stroke="#FA8072" stroke-width="1.45" stroke-opacity="0.85"/>
<text x="338.6" y="52.2" text-anchor="end">R</text>
<path d="M345.3,50.0 H373.6" stroke="#FF9900" stroke-width="1.45" stroke-opacity="0.85"/>
<text x="338.6" y="63.4" text-anchor="end">I</text>
<path d="M345.3,61.0 H373.6" stroke="#FF0000" stroke-width="1.45" stroke-opacity="0.85"/>
</g></svg>
</body></html>
